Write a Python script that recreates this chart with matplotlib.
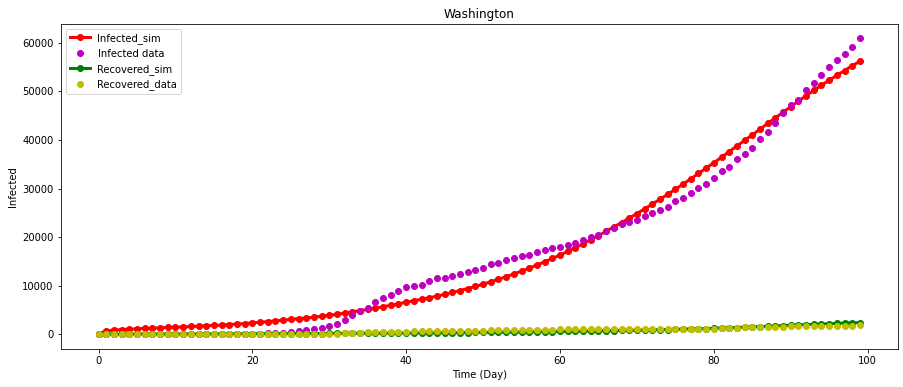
import matplotlib
matplotlib.use("Agg")
import matplotlib.pyplot as plt
import numpy as np

days = list(range(100))

infected_sim = [100, 700, 850, 950, 1050, 1100, 1200, 1250, 1300, 1400,
                1450, 1500, 1600, 1650, 1750, 1800, 1900, 2000, 2100, 2200,
                2350, 2450, 2600, 2750, 2900, 3050, 3200, 3350, 3500, 3700,
                3900, 4100, 4350, 4600, 4850, 5100, 5400, 5650, 5950, 6250,
                6600, 6900, 7200, 7500, 7850, 8200, 8600, 9000, 9400, 9850,
                10300, 10800, 11300, 11850, 12400, 13000, 13600, 14250, 14900, 15600,
                16300, 17050, 17800, 18600, 19450, 20300, 21200, 22100, 23000, 23900,
                24850, 25800, 26800, 27800, 28800, 29850, 30900, 32000, 33100, 34200,
                35300, 36450, 37600, 38750, 39900, 41050, 42200, 43400, 44550, 45700,
                46850, 48000, 49100, 50200, 51250, 52300, 53300, 54300, 55300, 56200]

infected_data = [0, 0, 0, 0, 0, 0, 0, 0, 0, 0,
                 0, 0, 0, 0, 0, 0, 0, 0, 0, 20,
                 50, 80, 150, 300, 350, 550, 750, 950, 1100, 1300,
                 1700, 2200, 3000, 3900, 4700, 5300, 6600, 7400, 8100, 9000,
                 9800, 10000, 10200, 10900, 11500, 11600, 11900, 12400, 12900, 13300,
                 13700, 14400, 14600, 15300, 15700, 16100, 16400, 17000, 17300, 17700,
                 18000, 18300, 18800, 19300, 20000, 20500, 21300, 21900, 22600, 23200,
                 23600, 24400, 25000, 25600, 26200, 27500, 28100, 29100, 30100, 30900,
                 32200, 33600, 34400, 36000, 37100, 38400, 40300, 41600, 43500, 45500,
                 47100, 48300, 50200, 51700, 53300, 55100, 56500, 57800, 59200, 60900]

recovered_sim = [0, 10, 10, 20, 20, 20, 30, 30, 30, 40,
                 40, 40, 50, 50, 50, 60, 60, 70, 70, 80,
                 80, 90, 90, 100, 100, 110, 120, 120, 130, 140,
                 150, 160, 170, 180, 190, 200, 210, 220, 230, 240,
                 250, 260, 270, 280, 300, 310, 320, 340, 350, 370,
                 380, 400, 420, 430, 450, 470, 490, 510, 530, 550,
                 570, 590, 620, 640, 670, 690, 720, 750, 780, 810,
                 840, 870, 900, 940, 970, 1010, 1040, 1080, 1120, 1160,
                 1200, 1280, 1330, 1380, 1440, 1500, 1560, 1620, 1700, 1780,
                 1850, 1920, 1980, 2040, 2100, 2160, 2220, 2280, 2340, 2400]

recovered_data = [0, 0, 0, 0, 0, 0, 0, 0, 0, 0,
                  0, 0, 0, 0, 0, 0, 0, 0, 0, 0,
                  0, 0, 0, 0, 0, 0, 0, 0, 0, 0,
                  50, 100, 200, 300, 350, 400, 450, 450, 500, 500,
                  550, 600, 600, 620, 650, 650, 680, 700, 700, 720,
                  750, 800, 900, 900, 920, 950, 950, 950, 970, 970,
                  980, 1000, 1000, 1000, 1000, 1100, 1150, 1150, 1150, 1150,
                  1150, 1150, 1150, 1150, 1150, 1150, 1100, 1100, 1100, 1150,
                  1150, 1200, 1300, 1350, 1400, 1400, 1450, 1500, 1550, 1550,
                  1600, 1600, 1600, 1650, 1700, 1700, 1750, 1750, 1750, 1800]

fig = plt.figure(figsize=(903/72, 387/72), dpi=72)
ax = fig.add_axes([60.5/903, 1 - 349/387, (898 - 60.5)/903, (349 - 23.7)/387])

ax.plot(days, infected_sim, 'r-o', lw=3, label='Infected_sim')
ax.plot(days, infected_data, 'mo', label='Infected data')
ax.plot(days, recovered_sim, 'g-o', lw=3, label='Recovered_sim')
ax.plot(days, recovered_data, 'yo', label='Recovered_data')

ax.set_title('Washington')
ax.set_xlabel('Time (Day)')
ax.set_ylabel('Infected')
ax.legend(loc='upper left')

fig.savefig('out.png', dpi=72)
